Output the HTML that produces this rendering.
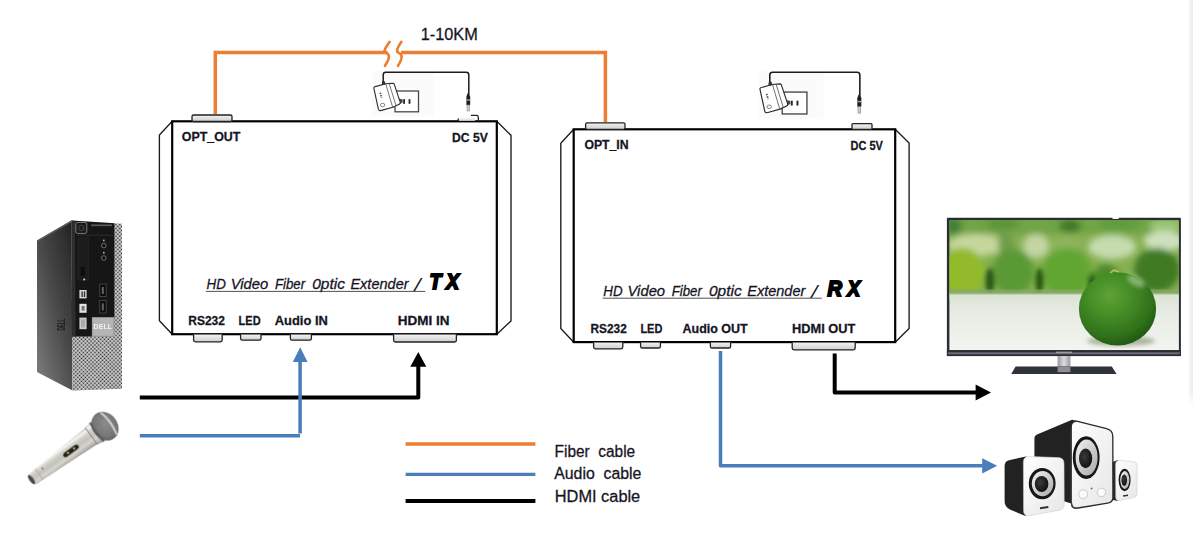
<!DOCTYPE html>
<html lang="en">
<head>
<meta charset="utf-8">
<title>HD Video Fiber Optic Extender</title>
<style>
html,body{margin:0;padding:0;background:#fff;}
body{width:1193px;height:542px;overflow:hidden;position:relative;font-family:"Liberation Sans",sans-serif;}
svg{position:absolute;left:0;top:0;display:block;}
text{font-family:"Liberation Sans",sans-serif;fill:#15151f;stroke:#15151f;stroke-width:0.28px;}
#pc text{stroke:none;}
.it text[transform]{stroke-width:0;}
.lb{font-weight:bold;font-size:13px;}
.it text{font-style:italic;font-size:14.6px;}
.big{font-weight:bold;font-style:italic;font-size:20.8px;fill:#000;stroke:#000;stroke-width:1.9px;stroke-linejoin:miter;}
.lg{font-size:16px;}
</style>
</head>
<body>
<svg width="1193" height="542" viewBox="0 0 1193 542">
<defs>
  <linearGradient id="conn" x1="0" y1="0" x2="0" y2="1">
    <stop offset="0" stop-color="#f2f2f2"/><stop offset="1" stop-color="#cfcfcf"/>
  </linearGradient>
</defs>

<!-- right faint strip -->
<g id="strip">
  <defs><linearGradient id="stripg" x1="0" y1="0" x2="1" y2="0"><stop offset="0" stop-color="#fff"/><stop offset="0.5" stop-color="#f1f1f1"/><stop offset="1" stop-color="#ececec"/></linearGradient>
  <linearGradient id="stripf" x1="0" y1="0" x2="0" y2="1"><stop offset="0" stop-color="#fff" stop-opacity="0"/><stop offset="1" stop-color="#fff"/></linearGradient></defs>
  <rect x="1188" y="0" width="5" height="406" fill="url(#stripg)"/>
  <rect x="1188" y="392" width="5" height="14" fill="url(#stripf)"/>
</g>

<!-- fiber cable -->
<g id="fiber" fill="none" stroke="#ed7d31" stroke-width="3.5" stroke-linejoin="miter">
  <path d="M215.3,114 V52.6 H387.5"/>
  <path d="M401,52.6 H605.4 V122"/>
  <path d="M389.6,41.8 C386.5,46.5 382.6,51 385.8,52.6 C389.6,54.4 390.6,57 385,65.8" stroke-width="2.6" stroke-linecap="round"/>
  <path d="M401.4,41.8 C398.3,46.5 395.4,51 398.4,52.6 C402.2,54.4 403.4,57 398,65.8" stroke-width="2.6" stroke-linecap="round"/>
</g>
<text x="420.8" y="40" class="lg" textLength="57" lengthAdjust="spacingAndGlyphs">1-10KM</text>

<!-- TX box -->
<g id="txbox" fill="none" stroke="#000">
  <path d="M172.2,121.3 L159.4,135 V320.8 L172.2,334.2" stroke-width="1.35" stroke="#1a1a1a"/>
  <path d="M496.8,121.3 L511,135.4 V321 L496.8,334.2" stroke-width="1.35" stroke="#1a1a1a"/>
  <rect x="172.2" y="121.3" width="324.6" height="212.9" stroke-width="2.2" fill="#fff"/>
</g>
<!-- RX box -->
<g id="rxbox" fill="none" stroke="#000">
  <path d="M573.7,129.3 L560.8,143.3 V328.5 L573.7,342.2" stroke-width="1.35" stroke="#1a1a1a"/>
  <path d="M895.2,129.3 L909.1,143 V328.5 L895.2,342.2" stroke-width="1.35" stroke="#1a1a1a"/>
  <rect x="573.7" y="129.3" width="321.5" height="212.8" stroke-width="2.2" fill="#fff"/>
</g>

<!-- connectors -->
<g id="connectors" fill="url(#conn)" stroke="#222" stroke-width="1.3">
  <rect x="192" y="115" width="40" height="6.5" rx="1.5"/>
  <rect x="585.6" y="122.8" width="39.4" height="6.5" rx="1.5"/>
  <rect x="852" y="123.6" width="20" height="5.8" rx="1"/>
  <!-- TX bottom -->
  <path d="M193.6,334.5 V340 Q193.6,341.8 195.4,341.8 H220.4 Q222.2,341.8 222.2,340 V334.5"/>
  <path d="M240.6,334.5 V338.6 Q240.6,340.2 242.2,340.2 H259.4 Q261,340.2 261,338.6 V334.5"/>
  <path d="M290.4,334.5 V338.6 Q290.4,340.2 292,340.2 H309.8 Q311.4,340.2 311.4,338.6 V334.5"/>
  <path d="M393.6,334.5 V340.2 Q393.6,342 395.4,342 H454.6 Q456.4,342 456.4,340.2 V334.5"/>
  <!-- RX bottom -->
  <path d="M593.6,342.5 V347 Q593.6,348.8 595.4,348.8 H621 Q622.8,348.8 622.8,347 V342.5"/>
  <path d="M640.6,342.5 V346.4 Q640.6,348 642.2,348 H658.8 Q660.4,348 660.4,346.4 V342.5"/>
  <path d="M710.4,342.5 V346.4 Q710.4,348 712,348 H729 Q730.6,348 730.6,346.4 V342.5"/>
  <path d="M792.2,342.5 V348 Q792.2,349.8 794,349.8 H853.4 Q855.2,349.8 855.2,348 V342.5"/>
</g>
<!-- TX DC connector (partly hidden) -->
<rect x="459" y="118.4" width="16" height="2.4" fill="#e6e6e6"/><path d="M458.2,121 V118.4 M471,115.4 H476.5 Q478.3,115.4 478.3,117.2 V121" fill="none" stroke="#222" stroke-width="1.3"/>

<!-- labels -->
<g id="labels">
  <text x="181.8" y="140.8" class="lb" textLength="58.6" lengthAdjust="spacingAndGlyphs">OPT_OUT</text>
  <text x="452" y="141.6" class="lb" textLength="35.8" lengthAdjust="spacingAndGlyphs">DC 5V</text>
  <text x="188.2" y="324.8" class="lb" textLength="36.8" lengthAdjust="spacingAndGlyphs">RS232</text>
  <text x="238.6" y="324.8" class="lb" textLength="22" lengthAdjust="spacingAndGlyphs">LED</text>
  <text x="274.8" y="324.8" class="lb" textLength="53" lengthAdjust="spacingAndGlyphs">Audio IN</text>
  <text x="397.7" y="324.8" class="lb" textLength="51.7" lengthAdjust="spacingAndGlyphs">HDMI IN</text>

  <text x="584.4" y="149" class="lb" textLength="44.2" lengthAdjust="spacingAndGlyphs">OPT_IN</text>
  <text x="850.6" y="149.5" class="lb" style="font-size:12px" textLength="32.3" lengthAdjust="spacingAndGlyphs">DC 5V</text>
  <text x="590.6" y="332.6" class="lb" textLength="36.1" lengthAdjust="spacingAndGlyphs">RS232</text>
  <text x="640.4" y="332.6" class="lb" textLength="22" lengthAdjust="spacingAndGlyphs">LED</text>
  <text x="682.6" y="332.6" class="lb" textLength="65.1" lengthAdjust="spacingAndGlyphs">Audio OUT</text>
  <text x="792" y="332.6" class="lb" textLength="63.3" lengthAdjust="spacingAndGlyphs">HDMI OUT</text>

  <g class="it">
    <text x="206.5" y="289.1" textLength="19.3" lengthAdjust="spacingAndGlyphs">HD</text>
    <text x="230.7" y="289.1" textLength="37.6" lengthAdjust="spacingAndGlyphs">Video</text>
    <text x="274.9" y="289.1" textLength="30.2" lengthAdjust="spacingAndGlyphs">Fiber</text>
    <text x="312.2" y="289.1" textLength="32.7" lengthAdjust="spacingAndGlyphs">0ptic</text>
    <text x="350.4" y="289.1" textLength="58.2" lengthAdjust="spacingAndGlyphs">Extender</text>
    <text transform="translate(414.4,290.9) scale(1.5,1.32)">/</text>
  </g>
  <line x1="205.8" y1="291.4" x2="425.2" y2="291.4" stroke="#3c3c3c" stroke-width="0.9"/>
  <text class="big" transform="translate(429.5,289.1) scale(0.927,1.05)">T</text><text class="big" transform="translate(446.2,289.1) scale(0.92,1.05)">X</text>

  <g class="it">
    <text x="603.3" y="295.7" textLength="19.3" lengthAdjust="spacingAndGlyphs">HD</text>
    <text x="627.5" y="295.7" textLength="37.6" lengthAdjust="spacingAndGlyphs">Video</text>
    <text x="671.7" y="295.7" textLength="30.2" lengthAdjust="spacingAndGlyphs">Fiber</text>
    <text x="709.0" y="295.7" textLength="32.7" lengthAdjust="spacingAndGlyphs">0ptic</text>
    <text x="747.2" y="295.7" textLength="58.2" lengthAdjust="spacingAndGlyphs">Extender</text>
    <text transform="translate(811.2,297.5) scale(1.5,1.32)">/</text>
  </g>
  <line x1="602.6" y1="298.2" x2="821.8" y2="298.2" stroke="#3c3c3c" stroke-width="0.9"/>
  <text class="big" transform="translate(827.5,296) scale(0.965,1.04)">R</text><text class="big" transform="translate(847.6,296) scale(0.905,1.04)">X</text>
</g>

<!-- HDMI cables -->
<g id="hdmi" fill="none" stroke="#000" stroke-width="4" stroke-linejoin="round">
  <path d="M139.8,397.4 H418.3 V364"/>
  <path d="M834.7,353.4 V392.4 H977"/>
</g>
<polygon points="418.3,352 426.3,366.8 410.3,366.8" fill="#000"/>
<polygon points="991,392.4 975.6,384.4 975.6,400.4" fill="#000"/>

<!-- audio cables -->
<g id="audio" fill="none" stroke="#4a7ebb" stroke-width="3.5" stroke-linejoin="round">
  <path d="M139.8,435.8 H300 M300.1,433.4 V360"/>
  <path d="M720.5,351 V465.8 H984"/>
</g>
<polygon points="300.2,347.2 307.6,362 292.8,362" fill="#4a7ebb"/>
<polygon points="997.2,465.8 982.2,458.2 982.2,473.4" fill="#4a7ebb"/>

<!-- legend -->
<g id="legend">
  <line x1="405.6" y1="444" x2="535.4" y2="444" stroke="#ed7d31" stroke-width="3.4"/>
  <line x1="405.6" y1="474.4" x2="535.4" y2="474.4" stroke="#4a7ebb" stroke-width="3.4"/>
  <line x1="405.6" y1="501" x2="535.4" y2="501" stroke="#000" stroke-width="4"/>
  <text x="554.6" y="456.6" class="lg" xml:space="preserve" textLength="80.6" lengthAdjust="spacingAndGlyphs">Fiber  cable</text>
  <text x="554.2" y="479.2" class="lg" xml:space="preserve" textLength="87.2" lengthAdjust="spacingAndGlyphs">Audio  cable</text>
  <text x="554.8" y="501.8" class="lg" textLength="85.4" lengthAdjust="spacingAndGlyphs">HDMI cable</text>
</g>

<!-- POWER ADAPTERS -->
<g id="pwr">
  <g transform="translate(383.2,72.2)">
    <rect x="-11" y="-1.5" width="62" height="46" fill="#fbfbfb"/>
    <g id="adp">
      <path d="M0,12 V2.6 Q0,0 2.6,0 H83 Q85.6,0 85.6,2.6 V22" fill="none" stroke="#1c1c1c" stroke-width="1.5"/>
      <path d="M84.4,21 L85.8,21 L87,24.6 V32.8 H83.2 V24.6 Z" fill="#1e1e1e"/>
      <rect x="83.4" y="27.2" width="3.4" height="1.3" fill="#aaa"/>
      <rect x="83.8" y="32.8" width="2.6" height="6" fill="#cfcfcf" stroke="#8a8a8a" stroke-width="0.6"/>
      <rect x="11.8" y="18.8" width="23.5" height="20.8" fill="#fff" stroke="#484848" stroke-width="1.3"/>
      <rect x="20" y="27" width="1.8" height="4.6" fill="#222"/>
      <rect x="25.4" y="27" width="1.8" height="4.6" fill="#222"/>
      <path d="M13,25.6 L19.5,27.2 L19.5,30 L15,33 Z" fill="#4a4a4a"/>
      <path d="M-9.2,16.6 Q-9.8,15 -8,14.4 L2.6,11.6 L9.6,11 Q10.6,11 11,12 L17,30 Q17.4,31.4 16,32 L9.6,35 L-2.6,38.4 Q-4.2,38.8 -4.8,37 Z" fill="#fff" stroke="#2c2c2c" stroke-width="1.1" stroke-linejoin="round"/>
      <path d="M2.6,11.8 L9.4,34.8 M6,11.4 L12.8,33.4" fill="none" stroke="#555" stroke-width="0.8"/>
      <path d="M-3,20.5 L-1.6,25.6" stroke="#444" stroke-width="1.6" fill="none" stroke-dasharray="1.4 1"/>
      <ellipse cx="-0.6" cy="32.8" rx="2.2" ry="1.7" fill="#fff" stroke="#555" stroke-width="0.7"/>
      <path d="M-1,9 L1.6,9 L2.4,12 L-1.4,13 Z" fill="#333"/>
    </g>
  </g>
  <g transform="translate(769.8,72.3) scale(1.052)">
    <rect x="-11" y="-1.5" width="62" height="46" fill="#fbfbfb"/>
    <use href="#adp"/>
  </g>
</g>
<!-- PC -->
<g id="pc">
  <defs>
    <linearGradient id="pcside" x1="0.9" y1="0" x2="0.1" y2="1">
      <stop offset="0" stop-color="#262626"/><stop offset="0.45" stop-color="#474747"/><stop offset="1" stop-color="#7c7c7c"/>
    </linearGradient>
    <pattern id="mesh" width="2.7" height="2.7" patternUnits="userSpaceOnUse" patternTransform="translate(72,221) rotate(45)">
      <rect width="2.7" height="2.7" fill="#f0f0f0"/>
      <rect x="0.45" y="0.45" width="1.7" height="1.7" fill="#1e1e1e"/>
    </pattern>
    <filter id="b03" x="-5%" y="-5%" width="110%" height="110%"><feGaussianBlur stdDeviation="0.45"/></filter>
  </defs>
  <g filter="url(#b03)">
    <polygon points="37,240.6 71.5,220.6 72.5,390.6 37,372" fill="url(#pcside)"/>
    <polygon points="71.5,220.6 122,223.8 122,388.8 72.5,390.6" fill="#d8d8d8"/>
    <polygon points="72,336 114,336 114,223.4 122,223.8 122,388.8 72.5,390.6" fill="url(#mesh)"/>
    <polygon points="71.5,220.6 114.4,223.3 114.4,317.4 92,317.4 92,336.4 72,336.4" fill="#141414"/>
    <polygon points="71.5,220.6 75,220.9 75.6,336.4 72,336.4" fill="#2e2e2e"/>
    <!-- power button -->
    <rect x="75.8" y="222.4" width="11" height="11" rx="1.6" fill="#1a1a1a" stroke="#8a8a8a" stroke-width="0.9"/>
    <circle cx="81.3" cy="227.9" r="2.6" fill="none" stroke="#666" stroke-width="0.6"/>
    <rect x="91" y="224.4" width="21" height="1.8" fill="#5a5a5a"/>
    <rect x="77" y="234.8" width="36" height="0.8" fill="#333"/>
    <!-- optical bay -->
    <rect x="78" y="238" width="10.4" height="42" fill="#1f1f1f" stroke="#2d2d2d" stroke-width="0.6"/>
    <rect x="80.6" y="267" width="4.6" height="9" fill="#0a0a0a"/>
    <circle cx="84.2" cy="279.4" r="1" fill="#ddd"/>
    <!-- audio jacks -->
    <circle cx="103.8" cy="245.6" r="2.3" fill="#111" stroke="#7a7a7a" stroke-width="0.9"/>
    <circle cx="103.8" cy="258" r="2.3" fill="#111" stroke="#7a7a7a" stroke-width="0.9"/>
    <rect x="103" y="239.6" width="1.6" height="1.8" fill="#aaa"/>
    <rect x="103" y="251.8" width="1.6" height="1.8" fill="#aaa"/>
    <!-- usb -->
    <rect x="99.8" y="284" width="6.4" height="12.6" fill="#0a0a0a" stroke="#505050" stroke-width="0.8"/>
    <rect x="99.8" y="300.4" width="6.4" height="12.6" fill="#0a0a0a" stroke="#505050" stroke-width="0.8"/>
    <rect x="101.8" y="287" width="2" height="7" fill="#666"/>
    <rect x="101.8" y="303.4" width="2" height="7" fill="#666"/>
    <!-- labels -->
    <rect x="79.4" y="290" width="7.2" height="8.4" fill="#d8d8d8"/>
    <rect x="81.4" y="291.4" width="1.4" height="5.6" fill="#333"/><rect x="83.8" y="291.4" width="1.4" height="5.6" fill="#333"/>
    <rect x="79.4" y="303.8" width="7.2" height="9" fill="#e2e2e2"/>
    <rect x="81.6" y="306" width="3" height="4.6" fill="#777"/>
    <rect x="79.4" y="317.6" width="7.2" height="11.6" fill="#c9c9c9"/>
    <rect x="81" y="319.4" width="4" height="8" fill="#aaa"/>
    <!-- dell badge -->
    <rect x="92.2" y="317.6" width="21.6" height="18.6" fill="#b4b4b4"/>
    <rect x="92.2" y="317.6" width="21.6" height="18.6" fill="none" stroke="#8c8c8c" stroke-width="0.7"/>
    <text x="93.6" y="329.4" style="font-size:6.4px;font-weight:bold;fill:#f4f4f4;letter-spacing:0.2px" textLength="18.6" lengthAdjust="spacingAndGlyphs">DELL</text>
    <!-- side dell logo -->
    <g transform="translate(60.2,324.6) rotate(-90)">
      <text x="-6" y="4.4" style="font-size:11px;font-weight:bold;fill:#202020" textLength="12" lengthAdjust="spacingAndGlyphs">DELL</text>
    </g>
    <polygon points="37,240.6 71.5,220.6 72,222 37.6,241.8" fill="#5a5a5a"/>
  </g>
</g>
<!-- MIC -->
<g id="mic">
  <defs>
    <linearGradient id="micbody" x1="0" y1="0" x2="0" y2="1">
      <stop offset="0" stop-color="#8a8a83"/><stop offset="0.12" stop-color="#b2b2aa"/><stop offset="0.3" stop-color="#d6d6cf"/><stop offset="0.5" stop-color="#c2c2ba"/><stop offset="0.7" stop-color="#d2d2cb"/><stop offset="0.86" stop-color="#f6f6f3"/><stop offset="1" stop-color="#b8b8b1"/>
    </linearGradient>
    <radialGradient id="michead" cx="0.45" cy="0.55" r="0.62">
      <stop offset="0" stop-color="#8c8c8c"/><stop offset="0.65" stop-color="#777"/><stop offset="1" stop-color="#5e5e5e"/>
    </radialGradient>
    <filter id="b05" x="-10%" y="-10%" width="120%" height="120%"><feGaussianBlur stdDeviation="0.55"/></filter>
  </defs>
  <g transform="translate(105.4,425.8) rotate(143.9)" filter="url(#b05)">
    <path d="M12,-10.2 L90,-6.6 Q92.6,-6.2 92.6,0 Q92.6,6.2 90,6.6 L12,10.2 Z" fill="url(#micbody)"/>
    <ellipse cx="91.4" cy="0" rx="2.1" ry="5.6" fill="#4a4a46"/>
    <path d="M82,-6.9 L82,6.9" stroke="#a2a29a" stroke-width="0.7"/>
    <path d="M8,-12 L17.4,-10.6 L17.4,10.6 L8,12 Z" fill="url(#micbody)"/>
    <path d="M17.4,-10.4 L17.4,10.4" stroke="#86867e" stroke-width="1"/>
    <ellipse cx="0.6" cy="0" rx="12.6" ry="15.2" fill="url(#michead)"/>
    <path d="M-3,-14 Q-6.4,0 -3,14 L-5.2,13 Q-8.6,0 -5.2,-13 Z" fill="#cdcdcd"/>
    <path d="M10.4,-11.4 Q12.8,0 10.4,11.4" stroke="#5c5c5c" stroke-width="2.2" fill="none"/>
    <rect x="33.4" y="-2.5" width="18.4" height="5" rx="2.4" fill="#24241f"/>
    <circle cx="38.6" cy="0.2" r="1.1" fill="#b9ae5e"/>
    <circle cx="46.2" cy="0.2" r="1.1" fill="#b9ae5e"/>
    <circle cx="76" cy="2.6" r="1" fill="#7c6248"/>
  </g>
</g>
<!-- TV -->
<g id="tv">
  <defs>
    <clipPath id="scr"><rect x="949.4" y="220.2" width="229.5" height="130"/></clipPath>
    <filter id="b6" x="-40%" y="-40%" width="180%" height="180%"><feGaussianBlur stdDeviation="3.4"/></filter>
    <filter id="b3" x="-30%" y="-30%" width="160%" height="160%"><feGaussianBlur stdDeviation="2.2"/></filter>
    <filter id="b1" x="-10%" y="-10%" width="120%" height="120%"><feGaussianBlur stdDeviation="0.6"/></filter>
    <radialGradient id="lime" cx="0.4" cy="0.32" r="0.72">
      <stop offset="0" stop-color="#5fa336"/><stop offset="0.4" stop-color="#448c26"/><stop offset="0.78" stop-color="#2f701a"/><stop offset="1" stop-color="#1f5412"/>
    </radialGradient>
    <linearGradient id="floor" x1="0" y1="0" x2="0" y2="1">
      <stop offset="0" stop-color="#d9e2d2"/><stop offset="0.3" stop-color="#e6ebe2"/><stop offset="1" stop-color="#f3f5f1"/>
    </linearGradient>
    <linearGradient id="neck" x1="0" y1="0" x2="1" y2="0">
      <stop offset="0" stop-color="#9a9a9e"/><stop offset="0.5" stop-color="#dcdce0"/><stop offset="1" stop-color="#9a9a9e"/>
    </linearGradient>
  </defs>
  <rect x="946.9" y="217.8" width="234" height="138.3" rx="0.8" fill="#2b2d34"/>
  <g clip-path="url(#scr)">
    <rect x="949" y="220" width="231" height="80" fill="#86b052"/>
    <g filter="url(#b6)">
      <rect x="940" y="212" width="250" height="22" fill="#6fa444"/>
      <ellipse cx="953" cy="226" rx="9" ry="9" fill="#45803a"/>
      <ellipse cx="1003" cy="224" rx="16" ry="6" fill="#5a943a"/>
      <ellipse cx="1070" cy="226" rx="11" ry="7" fill="#3f7a2a"/>
      <ellipse cx="1120" cy="224" rx="20" ry="6" fill="#5f9c40"/>
      <ellipse cx="1165" cy="226" rx="16" ry="7" fill="#9cc676"/>
      <ellipse cx="976" cy="245" rx="28" ry="11" fill="#c6d79c"/>
      <ellipse cx="1036" cy="246" rx="13" ry="12" fill="#c2d5a2"/>
      <ellipse cx="1006" cy="244" rx="8" ry="12" fill="#6f9c4a"/>
      <ellipse cx="1066" cy="244" rx="14" ry="10" fill="#8db45c"/>
      <ellipse cx="1112" cy="247" rx="24" ry="12" fill="#c4dcae"/>
      <ellipse cx="1164" cy="241" rx="20" ry="10" fill="#cde0bd"/>
      <ellipse cx="962" cy="272" rx="23" ry="24" fill="#92ba2c"/>
      <ellipse cx="1013" cy="272" rx="21" ry="23" fill="#5a9a34"/>
      <ellipse cx="1067" cy="273" rx="25" ry="25" fill="#62a632"/>
      <ellipse cx="1106" cy="280" rx="14" ry="16" fill="#4c8c2c"/>
      <ellipse cx="1157" cy="270" rx="23" ry="22" fill="#3f7a24"/>
    </g>
    <g filter="url(#b3)">
      <ellipse cx="990" cy="281" rx="4.5" ry="13" fill="#2c5814"/>
      <ellipse cx="1039.5" cy="281" rx="4" ry="13" fill="#28560f"/>
      <ellipse cx="1092" cy="284" rx="4" ry="10" fill="#2f6018"/>
    </g>
    <rect x="949" y="292.8" width="231" height="58" fill="url(#floor)"/>
    <rect x="940" y="289.4" width="250" height="5" fill="#86a866" filter="url(#b1)" opacity="0.75"/>
    <ellipse cx="1121" cy="341" rx="34" ry="5" fill="#a9b39d" filter="url(#b3)"/>
    <ellipse cx="1117.5" cy="308.9" rx="38.6" ry="36.7" fill="url(#lime)" filter="url(#b1)"/>
    <ellipse cx="1136" cy="281" rx="10" ry="4.5" fill="#b9d6a8" opacity="0.6" filter="url(#b3)" transform="rotate(28 1136 281)"/>
    <path d="M1110.6,272.6 l3.2,-2.4 l4.6,1.6" stroke="#c2bf5e" stroke-width="1.6" fill="none" stroke-linecap="round"/>
  </g>
  <rect x="946.9" y="350.2" width="234" height="5.9" fill="#2b2d34"/>
  <rect x="948" y="352.3" width="231.8" height="2" fill="#6c6e78"/>
  <rect x="1056" y="351.6" width="16" height="1.6" fill="#9a9ca4"/>
  <ellipse cx="1115.6" cy="218" rx="3.6" ry="1" fill="#fff"/>
  <rect x="1057.6" y="356" width="12.8" height="11.4" fill="url(#neck)"/>
  <polygon points="1015.6,366.4 1111.8,366.4 1116.6,374 1011.2,374" fill="#30323a"/>
  <rect x="1057.6" y="366.8" width="12.8" height="5.4" fill="#8d8d92"/>
</g>
<!-- SPEAKERS -->
<g id="spk">
  <defs>
    <linearGradient id="spkw" x1="0" y1="0" x2="1" y2="1">
      <stop offset="0" stop-color="#ffffff"/><stop offset="1" stop-color="#e6e6e6"/>
    </linearGradient>
    <linearGradient id="ring" x1="0" y1="0" x2="1" y2="1">
      <stop offset="0" stop-color="#f4f4f4"/><stop offset="1" stop-color="#a8a8a8"/>
    </linearGradient>
    <radialGradient id="cone" cx="0.4" cy="0.4" r="0.7">
      <stop offset="0" stop-color="#3a3a3a"/><stop offset="1" stop-color="#0c0c0c"/>
    </radialGradient>
  </defs>
  <g filter="url(#b05)">
    <!-- subwoofer -->
    <path d="M1034.4,438 Q1034.4,435.4 1037,434.4 L1072,419.8 L1078,421 L1076,505 L1034.4,492 Z" fill="#232323"/>
    <path d="M1071.2,427 Q1071.2,420.6 1077.6,421.4 L1106.6,428.6 Q1112.8,430.2 1112.8,436.4 L1113,497 Q1113,502.4 1107.6,503.2 L1078,508 Q1071.4,509 1071.4,502.4 Z" fill="url(#spkw)" stroke="#2a2a2a" stroke-width="1.3"/>
    <path d="M1071.2,430 L1071.4,503 Q1071.4,509 1077,508.2" fill="none" stroke="#444" stroke-width="1.2"/>
    <ellipse cx="1086.2" cy="457.6" rx="13.4" ry="21.4" fill="#151515"/>
    <ellipse cx="1086.6" cy="457.6" rx="11" ry="18" fill="url(#ring)"/>
    <ellipse cx="1085.6" cy="458.4" rx="6.6" ry="9.8" fill="url(#cone)"/>
    <circle cx="1083.2" cy="494.2" r="4.4" fill="#fbfbfb" stroke="#c4c4c4" stroke-width="0.9"/>
    <circle cx="1101.4" cy="492.4" r="4.2" fill="#fbfbfb" stroke="#c4c4c4" stroke-width="0.9"/>
    <circle cx="1091.6" cy="488.6" r="1" fill="#3f8f4a"/>
    <!-- left speaker -->
    <path d="M1004.6,466 Q1004.6,461.2 1009,460.2 L1026,456.4 L1030,458 L1030,514 L1024.8,515.8 L1010,509.4 Q1004.6,507 1004.6,501 Z" fill="#232323"/>
    <path d="M1023.4,462.4 Q1023.4,456.4 1029.4,456.6 L1058.2,457.6 Q1064,457.8 1064,463.6 L1064.2,504.6 Q1064.2,509.4 1059.4,510.2 L1029.6,515.6 Q1023.6,516.6 1023.6,510.6 Z" fill="url(#spkw)" stroke="#cfcfcf" stroke-width="0.6"/>
    <ellipse cx="1042.2" cy="483.6" rx="13.4" ry="15.6" fill="#151515"/>
    <ellipse cx="1042.6" cy="483.6" rx="10.8" ry="12.6" fill="url(#ring)"/>
    <ellipse cx="1041.6" cy="484" rx="6.8" ry="8" fill="url(#cone)"/>
    <rect x="1040" y="506.6" width="8.4" height="2" fill="#333" transform="rotate(-8 1044 507.6)"/>
    <!-- right speaker -->
    <path d="M1112.6,462 L1118,460 L1118,501 L1112.8,500 Z" fill="#2a2a2a"/>
    <path d="M1115.6,464.6 Q1115.6,460.2 1120,460.4 L1133,461.6 Q1137.2,462 1137.2,466.2 L1137,493.4 Q1137,497 1133.4,497.6 L1120,500.4 Q1115.8,501.2 1115.8,497 Z" fill="url(#spkw)" stroke="#cfcfcf" stroke-width="0.6"/>
    <ellipse cx="1124.6" cy="480" rx="6" ry="11.2" fill="#151515"/>
    <ellipse cx="1124.8" cy="480" rx="4.6" ry="9" fill="url(#ring)"/>
    <ellipse cx="1124.2" cy="480.2" rx="2.8" ry="5.6" fill="url(#cone)"/>
    <rect x="1123" y="495" width="5" height="1.4" fill="#333" transform="rotate(-8 1125 495.6)"/>
  </g>
</g>
</svg>
</body>
</html>
